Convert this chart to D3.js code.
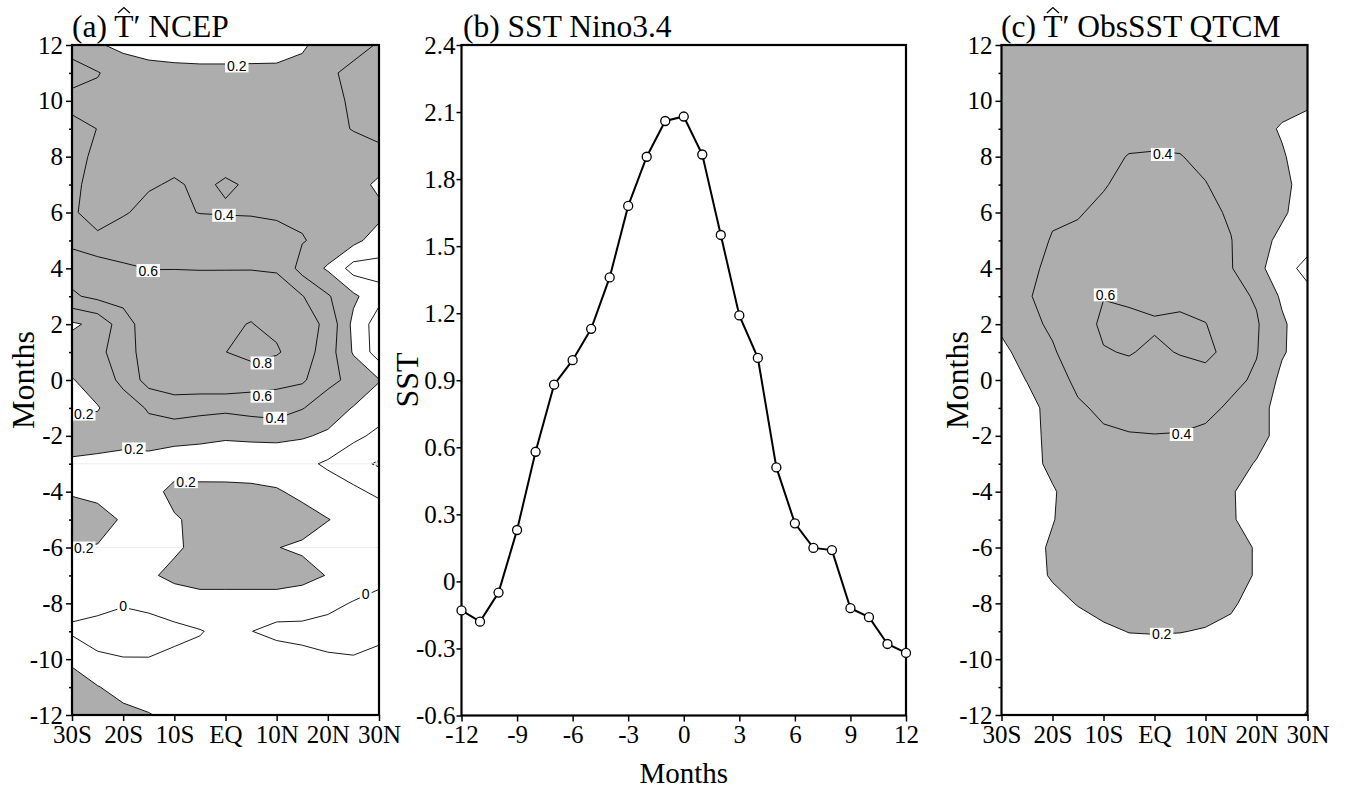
<!DOCTYPE html>
<html><head><meta charset="utf-8">
<script src="https://cdn.jsdelivr.net/npm/d3@7"></script>
<style>
body{margin:0;background:#fff;}
svg{display:block;}
</style></head><body>
<svg id="chart" width="1348" height="796"></svg>
<script>
// ---------------- data ----------------
const lats = [-30, -25, -20, -15, -10, -5, 0, 5, 10, 15, 20, 25, 30];
const months = [12, 11, 10, 9, 8, 7, 6, 5, 4, 3, 2, 1, 0, -1, -2, -3, -4, -5, -6, -7, -8, -9, -10, -11, -12];
const latTicks = [-30, -20, -10, 0, 10, 20, 30];
const latTickLabels = ["30S", "20S", "10S", "EQ", "10N", "20N", "30N"];
const monthTicks = [12, 10, 8, 6, 4, 2, 0, -2, -4, -6, -8, -10, -12];
const monthMinorTicks = [11, 9, 7, 5, 3, 1, -1, -3, -5, -7, -9, -11];

// (a) T' NCEP : rows = months (12 .. -12), columns = lats (30S .. 30N)
const ncepGrid = [
  [0.35, 0.22, 0.15, 0.05, 0.01, 0.01, 0.01, 0.02, 0.08, 0.17, 0.30, 0.36, 0.41],
  [0.45, 0.41, 0.317, 0.328, 0.31, 0.29, 0.29, 0.29, 0.265, 0.27, 0.38, 0.43, 0.48],
  [0.36, 0.35, 0.33, 0.32, 0.32, 0.32, 0.32, 0.32, 0.32, 0.33, 0.36, 0.42, 0.46],
  [0.44, 0.398, 0.35, 0.34, 0.34, 0.34, 0.35, 0.35, 0.35, 0.35, 0.37, 0.405, 0.47],
  [0.46, 0.363, 0.35, 0.36, 0.37, 0.37, 0.37, 0.37, 0.36, 0.36, 0.36, 0.35, 0.33],
  [0.43, 0.35, 0.35, 0.39, 0.41, 0.385, 0.41, 0.39, 0.37, 0.36, 0.34, 0.30, 0.15],
  [0.42, 0.337, 0.39, 0.43, 0.43, 0.395, 0.39, 0.385, 0.38, 0.37, 0.33, 0.30, 0.26],
  [0.566, 0.434, 0.46, 0.50, 0.52, 0.52, 0.50, 0.50, 0.45, 0.41, 0.35, 0.26, 0.10],
  [0.68, 0.72, 0.635, 0.595, 0.595, 0.59, 0.59, 0.59, 0.58, 0.33, 0.175, -0.08, -0.06],
  [0.572, 0.65, 0.66, 0.70, 0.72, 0.73, 0.74, 0.75, 0.70, 0.61, 0.42, 0.24, 0.06],
  [0.17, 0.25, 0.518, 0.70, 0.75, 0.78, 0.78, 0.805, 0.76, 0.70, 0.55, 0.15, -0.10],
  [0.30, 0.35, 0.50, 0.70, 0.76, 0.79, 0.798, 0.85, 0.82, 0.70, 0.50, 0.18, -0.10],
  [0.19, 0.28, 0.45, 0.677, 0.72, 0.74, 0.76, 0.70, 0.65, 0.63, 0.45, 0.35, 0.21],
  [0.17, 0.19, 0.30, 0.42, 0.494, 0.46, 0.44, 0.47, 0.50, 0.41, 0.30, 0.19, 0.10],
  [0.30, 0.27, 0.26, 0.32, 0.26, 0.246, 0.23, 0.24, 0.24, 0.22, 0.17, 0.05, -0.05],
  [0.167, 0.16, 0.14, 0.10, 0.10, 0.09, 0.05, 0.06, 0.08, 0.05, -0.03, -0.15, -0.22],
  [0.18, 0.15, 0.12, 0.12, 0.26, 0.26, 0.28, 0.26, 0.22, 0.15, 0.10, 0.05, -0.05],
  [0.30, 0.27, 0.18, 0.10, 0.18, 0.25, 0.30, 0.30, 0.30, 0.28, 0.205, 0.15, 0.15],
  [0.195, 0.19, 0.17, 0.10, 0.17, 0.253, 0.30, 0.30, 0.205, 0.17, 0.12, 0.13, 0.12],
  [0.10, 0.10, 0.10, 0.17, 0.25, 0.26, 0.28, 0.28, 0.30, 0.27, 0.19, 0.10, 0.05],
  [0.06, 0.04, 0.01, 0.035, 0.08, 0.14, 0.12, 0.12, 0.10, 0.07, 0.04, -0.01, -0.05],
  [-0.03, -0.05, -0.06, -0.065, -0.04, -0.01, 0.05, 0.003, -0.05, -0.04, -0.06, -0.06, -0.05],
  [0.16, 0.02, 0.005, 0.005, 0.033, 0.05, 0.06, 0.06, 0.10, 0.04, 0.02, 0.01, 0.05],
  [0.30, 0.21, 0.12, 0.10, 0.10, 0.08, 0.08, 0.08, 0.10, 0.10, 0.10, 0.10, 0.10],
  [0.35, 0.30, 0.26, 0.21, 0.15, 0.10, 0.10, 0.10, 0.10, 0.10, 0.10, 0.10, 0.10]
];

// (c) T' ObsSST QTCM
const qtcmGrid = [
  [0.28, 0.30, 0.30, 0.30, 0.30, 0.30, 0.30, 0.30, 0.29, 0.28, 0.27, 0.27, 0.27],
  [0.28, 0.30, 0.30, 0.31, 0.31, 0.31, 0.31, 0.31, 0.30, 0.29, 0.27, 0.27, 0.27],
  [0.28, 0.30, 0.31, 0.33, 0.33, 0.33, 0.33, 0.33, 0.32, 0.30, 0.27, 0.27, 0.25],
  [0.28, 0.30, 0.32, 0.35, 0.35, 0.36, 0.36, 0.36, 0.34, 0.31, 0.27, 0.18, 0.10],
  [0.28, 0.30, 0.34, 0.37, 0.37, 0.405, 0.41, 0.405, 0.37, 0.33, 0.28, 0.22, 0.10],
  [0.28, 0.31, 0.36, 0.38, 0.39, 0.44, 0.45, 0.44, 0.405, 0.35, 0.30, 0.25, 0.12],
  [0.28, 0.32, 0.38, 0.39, 0.43, 0.48, 0.49, 0.48, 0.44, 0.38, 0.30, 0.23, 0.10],
  [0.28, 0.34, 0.41, 0.43, 0.47, 0.52, 0.53, 0.52, 0.47, 0.405, 0.28, 0.15, 0.08],
  [0.28, 0.37, 0.43, 0.47, 0.52, 0.56, 0.55, 0.55, 0.50, 0.41, 0.26, 0.08, -0.06],
  [0.28, 0.39, 0.44, 0.50, 0.595, 0.58, 0.55, 0.55, 0.53, 0.46, 0.38, 0.17, 0.06],
  [0.24, 0.35, 0.43, 0.52, 0.63, 0.63, 0.62, 0.64, 0.605, 0.50, 0.42, 0.23, 0.08],
  [0.15, 0.28, 0.38, 0.50, 0.59, 0.61, 0.57, 0.61, 0.65, 0.53, 0.41, 0.22, 0.10],
  [0.12, 0.205, 0.30, 0.45, 0.50, 0.54, 0.53, 0.52, 0.52, 0.45, 0.37, 0.15, 0.08],
  [0.10, 0.15, 0.25, 0.37, 0.44, 0.46, 0.47, 0.47, 0.45, 0.37, 0.30, 0.10, 0.05],
  [0.10, 0.15, 0.24, 0.33, 0.37, 0.39, 0.395, 0.39, 0.36, 0.33, 0.25, 0.15, 0.05],
  [0.10, 0.12, 0.25, 0.31, 0.33, 0.35, 0.36, 0.36, 0.34, 0.26, 0.19, 0.12, 0.05],
  [0.10, 0.12, 0.18, 0.30, 0.32, 0.33, 0.34, 0.34, 0.32, 0.21, 0.15, 0.10, 0.05],
  [0.10, 0.12, 0.19, 0.30, 0.31, 0.32, 0.33, 0.33, 0.31, 0.21, 0.16, 0.10, 0.05],
  [0.10, 0.12, 0.23, 0.30, 0.30, 0.31, 0.32, 0.32, 0.30, 0.25, 0.19, 0.10, 0.05],
  [0.10, 0.12, 0.22, 0.28, 0.29, 0.30, 0.31, 0.31, 0.29, 0.25, 0.19, 0.10, 0.05],
  [0.08, 0.10, 0.14, 0.21, 0.26, 0.26, 0.28, 0.28, 0.26, 0.23, 0.12, 0.10, 0.05],
  [0.07, 0.08, 0.10, 0.12, 0.17, 0.205, 0.21, 0.205, 0.19, 0.15, 0.08, 0.08, 0.05],
  [0.06, 0.07, 0.08, 0.08, 0.10, 0.12, 0.12, 0.12, 0.12, 0.10, 0.06, 0.07, 0.05],
  [0.05, 0.06, 0.06, 0.06, 0.07, 0.08, 0.08, 0.08, 0.08, 0.07, 0.05, 0.07, 0.10],
  [0.05, 0.05, 0.05, 0.05, 0.05, 0.05, 0.05, 0.05, 0.05, 0.05, 0.05, 0.08, 0.22]
];

const contourLevels = [-0.2, 0, 0.2, 0.4, 0.6, 0.8];
const shadeLevel = 0.2;

// contour labels (lat, month, text)
const ncepLabels = [
  {lat: 2.2, month: 11.25, text: "0.2"},
  {lat: -0.3, month: 5.9, text: "0.4"},
  {lat: -15.1, month: 3.92, text: "0.6"},
  {lat: 7.2, month: 0.61, text: "0.8"},
  {lat: 7.2, month: -0.58, text: "0.6"},
  {lat: 9.7, month: -1.37, text: "0.4"},
  {lat: -17.9, month: -2.47, text: "0.2"},
  {lat: -27.7, month: -1.22, text: "0.2"},
  {lat: -7.7, month: -3.64, text: "0.2"},
  {lat: -27.7, month: -6.02, text: "0.2"},
  {lat: -20.0, month: -8.1, text: "0"},
  {lat: 27.4, month: -7.66, text: "0"}
];
const qtcmLabels = [
  {lat: 1.6, month: 8.08, text: "0.4"},
  {lat: -9.6, month: 3.05, text: "0.6"},
  {lat: 5.3, month: -1.95, text: "0.4"},
  {lat: 1.4, month: -9.11, text: "0.2"}
];
const ncepFaintMonths = [-3, -6];

// (b) SST Nino3.4
const sstMonths = [-12, -11, -10, -9, -8, -7, -6, -5, -4, -3, -2, -1, 0, 1, 2, 3, 4, 5, 6, 7, 8, 9, 10, 11, 12];
const sstValues = [-0.13, -0.18, -0.05, 0.23, 0.58, 0.88, 0.99, 1.13, 1.36, 1.68, 1.90, 2.06, 2.08, 1.91, 1.55, 1.19, 1.00, 0.51, 0.26, 0.15, 0.14, -0.12, -0.16, -0.28, -0.32];
const sstYTicks = [-0.6, -0.3, 0, 0.3, 0.6, 0.9, 1.2, 1.5, 1.8, 2.1, 2.4];
const sstXTicks = [-12, -9, -6, -3, 0, 3, 6, 9, 12];

// ---------------- drawing ----------------
const svg = d3.select("#chart");
const serif = "'Liberation Serif', 'Times New Roman', serif";
const sans = "'Liberation Sans', Arial, sans-serif";
const GRAY = "#adadad";
const NEG = "#e2e2e2";
const TICKFS = 25;

function styleAxis(ax) {
  ax.select(".domain").remove();
  ax.selectAll(".tick line").attr("stroke", "#000").attr("stroke-width", 1.5);
  ax.selectAll(".tick text").attr("fill", "#000").style("font-family", serif).style("font-size", TICKFS + "px");
}

function drawTitle(x0, parts, hatIndex) {
  const t = svg.append("text").attr("x", x0).attr("y", 37)
    .style("font-family", serif).style("font-size", "31.5px").attr("fill", "#000")
    .text(parts);
  if (hatIndex != null) {
    const ext = t.node().getExtentOfChar(hatIndex);
    const cx = ext.x + ext.width / 2;
    svg.append("path")
      .attr("d", `M${cx - 6},13 L${cx},7.5 L${cx + 6},13`)
      .attr("fill", "none").attr("stroke", "#000").attr("stroke-width", 1.2);
  }
}

function contourPanel(cfg) {
  const {left, right, top, bottom, grid, labels, id, faint, ylabelX} = cfg;
  const x = d3.scaleLinear().domain([lats[0], lats[lats.length - 1]]).range([left, right]);
  const y = d3.scaleLinear().domain([months[months.length - 1], months[0]]).range([bottom, top]);
  const g = svg.append("g");
  g.append("clipPath").attr("id", id).append("rect")
    .attr("x", left).attr("y", top).attr("width", right - left).attr("height", bottom - top);
  const body = g.append("g").attr("clip-path", `url(#${id})`);
  const nx = lats.length, ny = months.length;
  const values = grid.flat();
  const latStep = lats[1] - lats[0], monStep = months[1] - months[0];
  const proj = d3.geoTransform({
    point(px, py) {
      this.stream.point(x(lats[0] + (px - 0.5) * latStep), y(months[0] + (py - 0.5) * monStep));
    }
  });
  const path = d3.geoPath(proj);
  const gen = d3.contours().size([nx, ny]);

  body.append("rect").attr("x", left).attr("y", top).attr("width", right - left).attr("height", bottom - top).attr("fill", NEG);
  body.append("path").attr("d", path(gen.contour(values, -0.2))).attr("fill", "#fff");
  (faint || []).forEach(m => {
    body.append("line").attr("x1", left).attr("x2", right).attr("y1", y(m)).attr("y2", y(m))
      .attr("stroke", "#ececec").attr("stroke-width", 1);
  });
  body.append("path").attr("d", path(gen.contour(values, shadeLevel))).attr("fill", GRAY);
  contourLevels.forEach(lv => {
    body.append("path").attr("d", path(gen.contour(values, lv)))
      .attr("fill", "none").attr("stroke", "#000").attr("stroke-width", 0.9)
      .attr("stroke-linejoin", "round")
      .attr("stroke-dasharray", lv < 0 ? "2.5,2" : null);
  });
  labels.forEach(l => {
    const lg = body.append("g");
    const tx = lg.append("text").attr("x", x(l.lat)).attr("y", y(l.month))
      .attr("text-anchor", "middle").attr("dy", "0.36em")
      .style("font-family", sans).style("font-size", "14px").attr("fill", "#000").text(l.text);
    const w = tx.node().getComputedTextLength();
    lg.insert("rect", "text").attr("x", x(l.lat) - w / 2 - 2).attr("y", y(l.month) - 6.5)
      .attr("width", w + 4).attr("height", 13).attr("fill", "#fff");
  });

  // axes
  const ay = g.append("g").attr("transform", `translate(${left},0)`)
    .call(d3.axisLeft(y).tickValues(monthTicks).tickSize(6).tickPadding(3).tickFormat(d => String(d)));
  styleAxis(ay);
  const aym = g.append("g").attr("transform", `translate(${left},0)`)
    .call(d3.axisLeft(y).tickValues(monthMinorTicks).tickSize(3).tickFormat(""));
  styleAxis(aym);
  const ax = g.append("g").attr("transform", `translate(0,${bottom})`)
    .call(d3.axisBottom(x).tickValues(latTicks).tickSize(6).tickPadding(4).tickFormat((d, i) => latTickLabels[i]));
  styleAxis(ax);
  g.append("rect").attr("x", left).attr("y", top).attr("width", right - left).attr("height", bottom - top)
    .attr("fill", "none").attr("stroke", "#000").attr("stroke-width", 2.2);
  g.append("text").attr("transform", `translate(${ylabelX},380) rotate(-90)`)
    .attr("text-anchor", "middle").style("font-family", serif).style("font-size", "32px").attr("fill", "#000")
    .text("Months");
}

// Panel (a)
contourPanel({left: 72, right: 379, top: 45, bottom: 715, grid: ncepGrid, labels: ncepLabels, id: "clipA", faint: ncepFaintMonths, ylabelX: 34});
drawTitle(72, "(a) T\u2032 NCEP", 4);

// Panel (c)
contourPanel({left: 1001.5, right: 1307.5, top: 45, bottom: 715, grid: qtcmGrid, labels: qtcmLabels, id: "clipC", faint: [], ylabelX: 968});
drawTitle(1001, "(c) T\u2032 ObsSST QTCM", 4);

// Panel (b)
(function () {
  const left = 461.5, right = 906, top = 45, bottom = 715.5;
  const x = d3.scaleLinear().domain([sstXTicks[0], sstXTicks[sstXTicks.length - 1]]).range([left, right]);
  const y = d3.scaleLinear().domain([sstYTicks[0], sstYTicks[sstYTicks.length - 1]]).range([bottom, top]);
  const g = svg.append("g");
  const ay = g.append("g").attr("transform", `translate(${left},0)`)
    .call(d3.axisLeft(y).tickValues(sstYTicks).tickSize(5).tickPadding(1).tickFormat(d => d === 0 ? "0" : d.toFixed(1)));
  styleAxis(ay);
  const ax = g.append("g").attr("transform", `translate(0,${bottom})`)
    .call(d3.axisBottom(x).tickValues(sstXTicks).tickSize(6).tickPadding(4).tickFormat(d => String(d)));
  styleAxis(ax);
  g.append("rect").attr("x", left).attr("y", top).attr("width", right - left).attr("height", bottom - top)
    .attr("fill", "none").attr("stroke", "#000").attr("stroke-width", 2.2);
  const pts = sstMonths.map((m, i) => [m, sstValues[i]]);
  g.append("path").datum(pts)
    .attr("d", d3.line().x(d => x(d[0])).y(d => y(d[1])))
    .attr("fill", "none").attr("stroke", "#000").attr("stroke-width", 2);
  g.selectAll("circle.pt").data(pts).join("circle").attr("class", "pt")
    .attr("cx", d => x(d[0])).attr("cy", d => y(d[1])).attr("r", 4.5)
    .attr("fill", "#fff").attr("stroke", "#000").attr("stroke-width", 1.3);
  g.append("text").attr("x", (left + right) / 2).attr("y", 783).attr("text-anchor", "middle")
    .style("font-family", serif).style("font-size", "29px").attr("fill", "#000").text("Months");
  g.append("text").attr("transform", `translate(418,380) rotate(-90)`)
    .attr("text-anchor", "middle").style("font-family", serif).style("font-size", "32px").attr("fill", "#000")
    .text("SST");
})();
drawTitle(463, "(b) SST Nino3.4", null);
</script>
</body></html>
